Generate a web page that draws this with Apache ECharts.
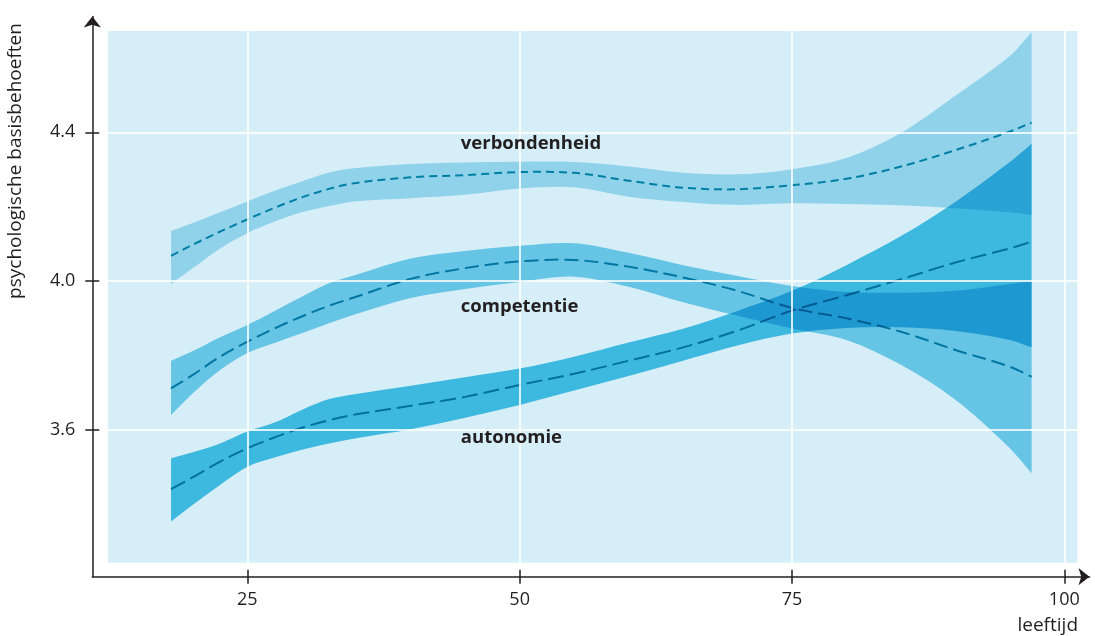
<!DOCTYPE html>
<html lang="nl">
<head>
<meta charset="UTF-8">
<title>Psychologische basisbehoeften naar leeftijd</title>
<script src="https://cdn.jsdelivr.net/npm/echarts@6/dist/echarts.min.js"></script>
<style>
  html, body { margin: 0; padding: 0; background: #fff; }
  #chart { width: 1095px; height: 636px; }
</style>
</head>
<body>
<div id="chart"></div>
<script>
  // leeftijd (x) and the three bands: lower bound, mean, upper bound
  const ages = [18, 20, 22.5, 25, 27.5, 30, 32.5, 35, 40, 45, 50, 55, 60, 65, 70, 75, 80, 85, 90, 95, 97];

  const verbUpper = [4.135, 4.156, 4.185, 4.214, 4.243, 4.268, 4.292, 4.304, 4.315, 4.319, 4.321, 4.320, 4.308, 4.291, 4.287, 4.301, 4.331, 4.398, 4.498, 4.605, 4.669];
  const verbMean  = [4.068, 4.098, 4.133, 4.166, 4.197, 4.225, 4.248, 4.264, 4.279, 4.285, 4.293, 4.291, 4.270, 4.251, 4.247, 4.258, 4.275, 4.308, 4.352, 4.402, 4.426];
  const verbLower = [3.992, 4.035, 4.088, 4.129, 4.160, 4.185, 4.202, 4.215, 4.223, 4.232, 4.249, 4.252, 4.227, 4.213, 4.205, 4.209, 4.207, 4.204, 4.196, 4.185, 4.178];

  const compUpper = [3.786, 3.812, 3.849, 3.882, 3.920, 3.958, 3.994, 4.017, 4.061, 4.081, 4.095, 4.102, 4.076, 4.043, 4.014, 3.987, 3.971, 3.969, 3.974, 3.992, 4.001];
  const compMean  = [3.712, 3.748, 3.797, 3.837, 3.873, 3.905, 3.934, 3.958, 4.006, 4.035, 4.053, 4.057, 4.039, 4.010, 3.974, 3.928, 3.900, 3.864, 3.815, 3.770, 3.743];
  const compLower = [3.640, 3.699, 3.761, 3.807, 3.834, 3.860, 3.887, 3.912, 3.955, 3.979, 3.998, 4.012, 3.985, 3.943, 3.907, 3.873, 3.842, 3.775, 3.681, 3.551, 3.484];

  const autoUpper = [3.524, 3.540, 3.564, 3.596, 3.620, 3.654, 3.683, 3.697, 3.719, 3.742, 3.765, 3.797, 3.835, 3.872, 3.920, 3.974, 4.043, 4.121, 4.213, 4.320, 4.369];
  const autoMean  = [3.441, 3.473, 3.515, 3.551, 3.580, 3.606, 3.626, 3.642, 3.665, 3.689, 3.721, 3.751, 3.786, 3.822, 3.867, 3.921, 3.962, 4.005, 4.050, 4.088, 4.106];
  const autoLower = [3.354, 3.399, 3.452, 3.501, 3.526, 3.547, 3.564, 3.578, 3.602, 3.633, 3.667, 3.706, 3.745, 3.786, 3.827, 3.859, 3.874, 3.876, 3.866, 3.842, 3.822];

  const xTicks = [25, 50, 75, 100];
  const yTicks = [3.6, 4.0, 4.4];

  const labelNames = ['verbondenheid', 'competentie', 'autonomie'];
  const labelX = [44.6, 44.6, 44.6];
  const labelY = [4.369, 3.931, 3.578];

  // axis extents and the shaded plot frame
  const xRange = [10.771, 102.313];
  const yRange = [3.2057, 4.7112];
  const frameX = [12.2, 101.2];
  const frameY = [3.243, 4.672];

  const ink = '#231f20';
  const font = '"Open Sans", "Noto Sans", sans-serif';

  // smooth curve (cubic Hermite in x) through pixel points, continuing an open path
  function curveThrough(pts) {
    const n = pts.length;
    const slope = pts.map((p, i) => {
      const a = pts[Math.max(0, i - 1)], b = pts[Math.min(n - 1, i + 1)];
      return (b[1] - a[1]) / (b[0] - a[0]);
    });
    let d = '';
    for (let i = 0; i < n - 1; i++) {
      const p = pts[i], q = pts[i + 1], h = (q[0] - p[0]) / 3;
      d += ' C' + (p[0] + h) + ' ' + (p[1] + slope[i] * h) + ' ' +
        (q[0] - h) + ' ' + (q[1] - slope[i + 1] * h) + ' ' + q[0] + ' ' + q[1];
    }
    return d;
  }

  function band(key, lower, upper, fill) {
    return {
      name: key + '-band', type: 'custom', silent: true, z: 2, blendMode: 'multiply',
      data: [[ages[0], lower[0]]],
      renderItem(params, api) {
        const top = ages.map((a, i) => api.coord([a, upper[i]]));
        const bot = ages.map((a, i) => api.coord([a, lower[i]])).reverse();
        const d = 'M' + top[0][0] + ' ' + top[0][1] + curveThrough(top) +
          ' L' + bot[0][0] + ' ' + bot[0][1] + curveThrough(bot) + ' Z';
        return { type: 'path', shape: { pathData: d }, style: { fill: fill, stroke: null } };
      },
    };
  }

  function meanLine(key, ys, dash) {
    return {
      name: key, type: 'custom', silent: true, z: 3, blendMode: 'multiply',
      data: [[ages[0], ys[0]]],
      renderItem(params, api) {
        const pts = ages.map((a, i) => api.coord([a, ys[i]]));
        const d = 'M' + pts[0][0] + ' ' + pts[0][1] + curveThrough(pts);
        return {
          type: 'path', shape: { pathData: d },
          style: { fill: 'none', stroke: '#009ab4', lineWidth: 2, lineDash: dash },
        };
      },
    };
  }

  const gridLines = [...xTicks.map(v => ({ xAxis: v })), ...yTicks.map(v => ({ yAxis: v }))];

  const chart = echarts.init(document.getElementById('chart'));

  const axisBase = { type: 'value', splitLine: { show: false }, z: 10 };
  const tickStyle = { color: ink, width: 1.5 };

  chart.setOption({
    animation: false,
    backgroundColor: '#fff',
    grid: { left: 92.3, right: 5.5, top: 16.5, bottom: 59.3 },
    xAxis: [
      Object.assign({}, axisBase, {
        min: xRange[0], max: xRange[1],
        axisLine: { show: true, symbol: ['none', 'arrow'], symbolSize: [13, 11], lineStyle: tickStyle },
        axisTick: { show: true, length: 7, customValues: xTicks, lineStyle: tickStyle },
        axisLabel: { customValues: xTicks, color: ink, fontSize: 18, margin: 14, fontFamily: font },
      }),
      Object.assign({}, axisBase, {
        min: xRange[0], max: xRange[1], position: 'bottom',
        axisLine: { show: false },
        axisTick: { show: true, inside: true, length: 7, customValues: xTicks, lineStyle: tickStyle },
        axisLabel: { show: false },
      }),
    ],
    yAxis: [
      Object.assign({}, axisBase, {
        min: yRange[0], max: yRange[1],
        axisLine: { show: true, symbol: ['none', 'arrow'], symbolSize: [13, 11], lineStyle: tickStyle },
        axisTick: { show: true, length: 7, customValues: yTicks, lineStyle: tickStyle },
        axisLabel: { customValues: yTicks, color: ink, fontSize: 18, margin: 17, fontFamily: font, formatter: v => v.toFixed(1) },
      }),
      Object.assign({}, axisBase, {
        min: yRange[0], max: yRange[1], position: 'left',
        axisLine: { show: false },
        axisTick: { show: true, inside: true, length: 7, customValues: yTicks, lineStyle: tickStyle },
        axisLabel: { show: false },
      }),
    ],
    series: [
      {
        name: 'frame', type: 'line', data: [], z: 0, silent: true,
        markArea: {
          silent: true, itemStyle: { color: '#d5eef7' },
          data: [[{ coord: [frameX[0], frameY[0]] }, { coord: [frameX[1], frameY[1]] }]],
        },
      },
      {
        name: 'grid', type: 'line', data: [], z: 1, silent: true,
        markLine: {
          silent: true, symbol: 'none', label: { show: false },
          lineStyle: { color: '#fff', width: 1.5, type: 'solid', opacity: 1 },
          data: gridLines,
        },
      },
      band('verb', verbLower, verbUpper, '#abe1f2'),
      band('comp', compLower, compUpper, '#7ad2ed'),
      band('auto', autoLower, autoUpper, '#49c6e8'),
      meanLine('verbondenheid', verbMean, [8, 5]),
      meanLine('competentie', compMean, [14, 6]),
      meanLine('autonomie', autoMean, [16, 6]),
      {
        name: 'grid-over', type: 'line', data: [], z: 4, silent: true,
        markLine: {
          silent: true, symbol: 'none', label: { show: false },
          lineStyle: { color: '#fff', width: 1.5, type: 'solid', opacity: 0.3 },
          data: gridLines,
        },
      },
      {
        name: 'labels', type: 'custom', z: 5, silent: true,
        data: labelNames.map((n, i) => [labelX[i], labelY[i]]),
        renderItem(params, api) {
          const p = api.coord([api.value(0), api.value(1)]);
          return {
            type: 'text', x: p[0], y: p[1],
            style: {
              text: labelNames[params.dataIndex], fill: ink,
              font: 'bold 18.5px ' + font, align: 'left', verticalAlign: 'middle',
            },
          };
        },
      },
    ],
    graphic: [
      {
        type: 'text', x: 16, y: 161, rotation: Math.PI / 2, silent: true,
        style: { text: 'psychologische basisbehoeften', fill: ink, font: '19px ' + font, align: 'center', verticalAlign: 'middle' },
      },
      {
        type: 'text', x: 1078, y: 626, silent: true,
        style: { text: 'leeftijd', fill: ink, font: '19px ' + font, align: 'right', verticalAlign: 'middle' },
      },
    ],
  });
</script>
</body>
</html>
